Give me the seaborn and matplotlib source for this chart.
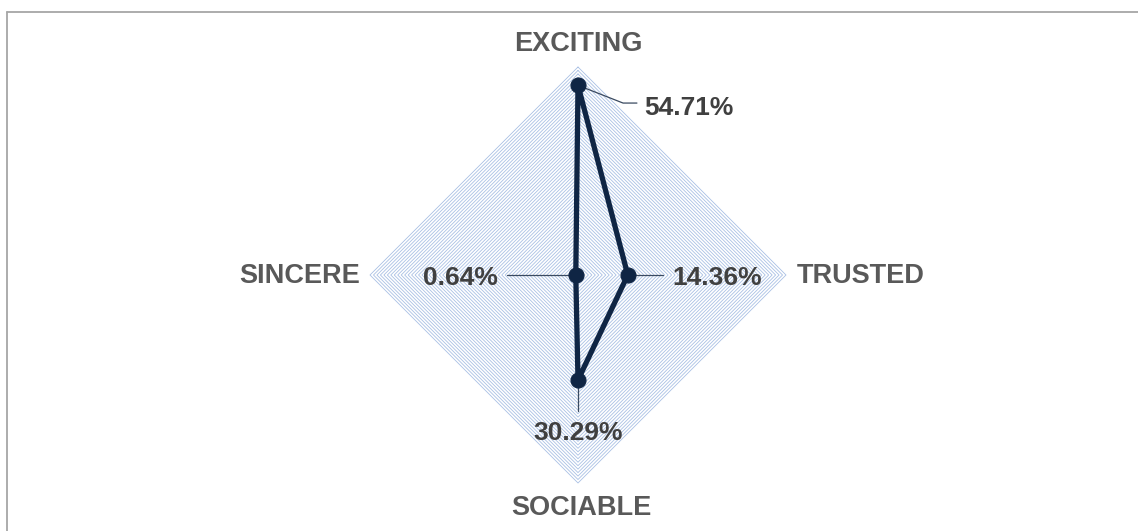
import numpy as np
import pandas as pd
import seaborn as sns
import matplotlib.pyplot as plt
from matplotlib.lines import Line2D

# radar data (percent), clockwise from top
categories = ['EXCITING', 'TRUSTED', 'SOCIABLE', 'SINCERE']
values = [54.71, 14.36, 30.29, 0.64]
value_labels = ['54.71%', '14.36%', '30.29%', '0.64%']
axis_max = 60
grid_step = 1

sns.set_theme(style='white')
plt.rcParams['font.family'] = ['Liberation Sans', 'DejaVu Sans']

W, H = 1138, 531
cx, cy = 578, 275          # chart centre in pixels (from top-left)
ppu = 208 / axis_max       # pixels per percent

fig = plt.figure(figsize=(W / 100, H / 100), dpi=100)
ax = fig.add_axes([0, 0, 1, 1])
ax.set_xlim(-cx / ppu, (W - cx) / ppu)
ax.set_ylim(-(H - cy) / ppu, cy / ppu)
ax.set_axis_off()

angles = np.deg2rad([90, 0, -90, 180])

# diamond gridlines, one per percent
for r in np.arange(grid_step, axis_max + grid_step, grid_step):
    gx = np.append(r * np.cos(angles), r * np.cos(angles[0]))
    gy = np.append(r * np.sin(angles), r * np.sin(angles[0]))
    ax.plot(gx, gy, color='#A9C0E4', lw=0.6, zorder=1)

# data polygon
v = np.array(values)
df = pd.DataFrame({'x': np.append(v * np.cos(angles), v[0] * np.cos(angles[0])),
                   'y': np.append(v * np.sin(angles), v[0] * np.sin(angles[0])),
                   'order': range(len(v) + 1)})
navy = '#0F2544'
sns.lineplot(data=df, x='x', y='y', sort=False, estimator=None, color=navy,
             lw=3.8, ax=ax, zorder=3)
sns.scatterplot(data=df.iloc[:-1], x='x', y='y', color=navy, s=115,
                edgecolor=navy, ax=ax, zorder=4)

# leader lines + value labels
lead = '#3A4A60'
lab_kw = dict(fontsize=19, fontweight='bold', color='#404040', zorder=5)
ax.plot([0, 13.0, 17.0], [values[0], 49.6, 49.6], color=lead, lw=0.9, zorder=2)
ax.text(19.2, 46.1, value_labels[0], ha='left', va='baseline', **lab_kw)
ax.plot([values[1], 24.5], [0, 0], color=lead, lw=0.9, zorder=2)
ax.text(27.3, -2.9, value_labels[1], ha='left', va='baseline', **lab_kw)
ax.plot([0, 0], [-values[2], -39.2], color=lead, lw=0.9, zorder=2)
ax.text(0, -47.6, value_labels[2], ha='center', va='baseline', **lab_kw)
ax.plot([-values[3], -20.5], [0, 0], color=lead, lw=0.9, zorder=2)
ax.text(-23.1, -2.9, value_labels[3], ha='right', va='baseline', **lab_kw)

# category labels
cat_kw = dict(fontsize=19.5, fontweight='bold', color='#595959')
ax.text(0, 64.6, categories[0], ha='center', va='baseline', **cat_kw)
ax.text(63.2, -2.4, categories[1], ha='left', va='baseline', **cat_kw)
ax.text(1.1, -69.2, categories[2], ha='center', va='baseline', **cat_kw)
ax.text(-62.9, -2.4, categories[3], ha='right', va='baseline', **cat_kw)

# chart area border (top and left visible)
fig.add_artist(Line2D([6.5 / W, 1], [1 - 12 / H, 1 - 12 / H], color='#A6A6A6', lw=1.3))
fig.add_artist(Line2D([6.5 / W, 6.5 / W], [0, 1 - 12 / H], color='#A6A6A6', lw=1.3))

fig.savefig('out.png', dpi=100)
